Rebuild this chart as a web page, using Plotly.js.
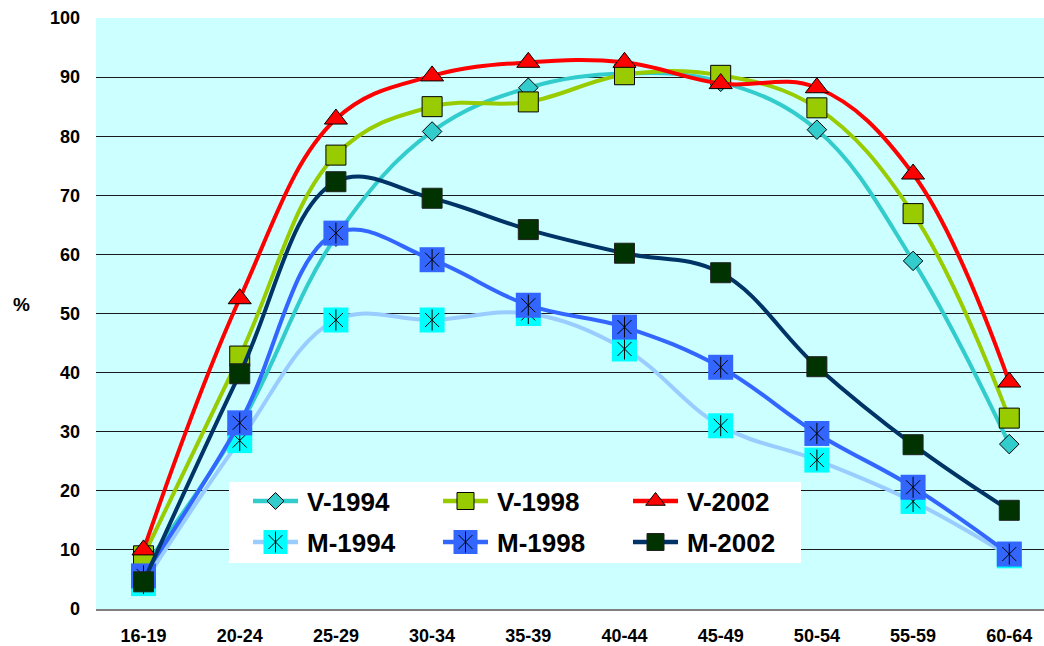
<!DOCTYPE html>
<html>
<head>
<meta charset="utf-8">
<script src="https://cdn.plot.ly/plotly-3.0.1.min.js"></script>
<style>
  html, body { margin: 0; padding: 0; background: #ffffff; }
  #chart { width: 1044px; height: 646px; }
</style>
</head>
<body>
<div id="chart"></div>
<script>
// Age groups on the category axis
const ageGroups = ['16-19', '20-24', '25-29', '30-34', '35-39', '40-44', '45-49', '50-54', '55-59', '60-64'];
const yTicks = [0, 10, 20, 30, 40, 50, 60, 70, 80, 90, 100];

// Employment rate (%) per age group
const v1994 = [7.0, 31.0, 63.0, 80.8, 88.2, 90.6, 89.2, 81.1, 58.9, 27.9];
const v1998 = [9.0, 42.8, 76.8, 85.0, 85.8, 90.4, 90.3, 84.8, 66.9, 32.3];
const v2002 = [10.0, 52.5, 82.9, 90.2, 92.5, 92.5, 88.9, 88.2, 73.6, 38.4];
const m1994 = [4.3, 28.5, 48.9, 48.9, 50.0, 44.0, 31.0, 25.2, 18.2, 9.0];
const m1998 = [5.6, 31.5, 63.6, 59.1, 51.4, 47.7, 40.9, 29.7, 20.6, 9.3];
const m2002 = [4.6, 39.8, 72.3, 69.5, 64.2, 60.2, 56.9, 41.0, 27.8, 16.7];

const seriesNames = ['V-1994', 'V-1998', 'V-2002', 'M-1994', 'M-1998', 'M-2002'];
const seriesValues = [v1994, v1998, v2002, m1994, m1998, m2002];

const FONT = 'Arial, "Liberation Sans", sans-serif';

// Visual style of each series (line colour, marker look, star overlay)
const styles = [
  { line: '#33CCCC', marker: { symbol: 'diamond', size: 15, color: '#33CCCC', line: { color: '#000000', width: 1 } }, star: false },
  { line: '#99CC00', marker: { symbol: 'square', size: 20, color: '#99CC00', line: { color: '#000000', width: 1 } }, star: false },
  { line: '#FF0000', marker: { symbol: 'triangle-up', size: 20, color: '#FF0000', line: { color: '#000000', width: 1 } }, star: false },
  { line: '#99CCFF', marker: { symbol: 'square', size: 25, color: '#00FFFF', line: { width: 0 } }, star: true },
  { line: '#3366FF', marker: { symbol: 'square', size: 25, color: '#3366FF', line: { width: 0 } }, star: true },
  { line: '#003366', marker: { symbol: 'square', size: 20, color: '#003300', line: { color: '#222222', width: 1 } }, star: false }
];

// Star glyph drawn on top of a square marker: an X plus a vertical stroke
function starTraces(x, y, xa, ya, scale) {
  const s = scale || 1;
  return [
    { type: 'scatter', mode: 'markers', x: x, y: y, xaxis: xa, yaxis: ya,
      marker: { symbol: 'x-thin-open', size: 14 * s, color: '#000000', line: { color: '#000000', width: 1 } },
      hoverinfo: 'skip', showlegend: false },
    { type: 'scatter', mode: 'markers', x: x, y: y, xaxis: xa, yaxis: ya,
      marker: { symbol: 'line-ns-open', size: 15 * s, color: '#000000', line: { color: '#000000', width: 1 } },
      hoverinfo: 'skip', showlegend: false }
  ];
}

const traces = [];
seriesValues.forEach((vals, i) => {
  const st = styles[i];
  traces.push({
    type: 'scatter', mode: 'lines+markers', name: seriesNames[i],
    x: ageGroups, y: vals,
    line: { color: st.line, width: 4, shape: 'spline', smoothing: 1.1 },
    marker: st.marker,
    showlegend: false
  });
  if (st.star) traces.push(...starTraces(ageGroups, vals, 'x', 'y'));
});

// Legend box, drawn on an overlay axis pair measured in page pixels
const box = { x0: 229, x1: 801, y0: 482, y1: 563 };
traces.push({
  type: 'scatter', mode: 'lines', xaxis: 'x2', yaxis: 'y2',
  x: [box.x0, box.x1, box.x1, box.x0, box.x0],
  y: [box.y0, box.y0, box.y1, box.y1, box.y0],
  fill: 'toself', fillcolor: '#FFFFFF', line: { width: 0, color: '#FFFFFF' },
  hoverinfo: 'skip', showlegend: false
});

const legendCols = [253, 443, 633];
const legendRows = [501, 542];
const sampleLen = 45;
const annotations = [];
seriesNames.forEach((name, i) => {
  const st = styles[i];
  const x0 = legendCols[i % 3];
  const yRow = legendRows[Math.floor(i / 3)];
  const xc = x0 + sampleLen / 2;
  traces.push({
    type: 'scatter', mode: 'lines', xaxis: 'x2', yaxis: 'y2',
    x: [x0, x0 + sampleLen], y: [yRow, yRow],
    line: { color: st.line, width: 4.5 }, hoverinfo: 'skip', showlegend: false
  });
  const m = Object.assign({}, st.marker);
  m.size = Math.round(m.size * (st.star ? 0.95 : 0.85));
  traces.push({
    type: 'scatter', mode: 'markers', xaxis: 'x2', yaxis: 'y2',
    x: [xc], y: [yRow], marker: m, hoverinfo: 'skip', showlegend: false
  });
  if (st.star) traces.push(...starTraces([xc], [yRow], 'x2', 'y2', 1.0));
  annotations.push({
    xref: 'x2', yref: 'y2', x: x0 + sampleLen + 7, y: yRow + 1,
    xanchor: 'left', yanchor: 'middle', showarrow: false,
    text: '<b>' + name + '</b>',
    font: { family: FONT, size: 26, color: '#000000' }
  });
});

// Axis unit label
annotations.push({
  xref: 'paper', yref: 'paper', x: -0.079, y: 0.516,
  xanchor: 'center', yanchor: 'middle', showarrow: false,
  text: '<b>%</b>', font: { family: FONT, size: 19, color: '#000000' }
});

const layout = {
  width: 1044, height: 646,
  margin: { l: 96, r: 0, t: 18, b: 37, pad: 0 },
  paper_bgcolor: '#FFFFFF',
  plot_bgcolor: '#CCFFFF',
  showlegend: false,
  xaxis: {
    type: 'category', range: [-0.494, 9.361],
    showgrid: false, zeroline: false,
    showline: true, linecolor: '#808080', linewidth: 2,
    ticks: '', ticklabelstandoff: 9,
    tickfont: { family: FONT, size: 18, color: '#000000', weight: 'bold' },
    fixedrange: true
  },
  yaxis: {
    range: [0, 100], tickvals: yTicks, ticktext: yTicks.map(String),
    showgrid: true, gridcolor: '#1a1a1a', gridwidth: 1,
    zeroline: false, showline: false,
    ticks: '', ticklabelstandoff: 15,
    tickfont: { family: FONT, size: 18, color: '#000000', weight: 'bold' },
    fixedrange: true
  },
  xaxis2: { overlaying: 'x', range: [96, 1044], visible: false, fixedrange: true },
  yaxis2: { overlaying: 'y', range: [609, 18], visible: false, fixedrange: true },
  annotations: annotations
};

Plotly.newPlot('chart', traces, layout, { staticPlot: true, displayModeBar: false });
</script>
</body>
</html>
